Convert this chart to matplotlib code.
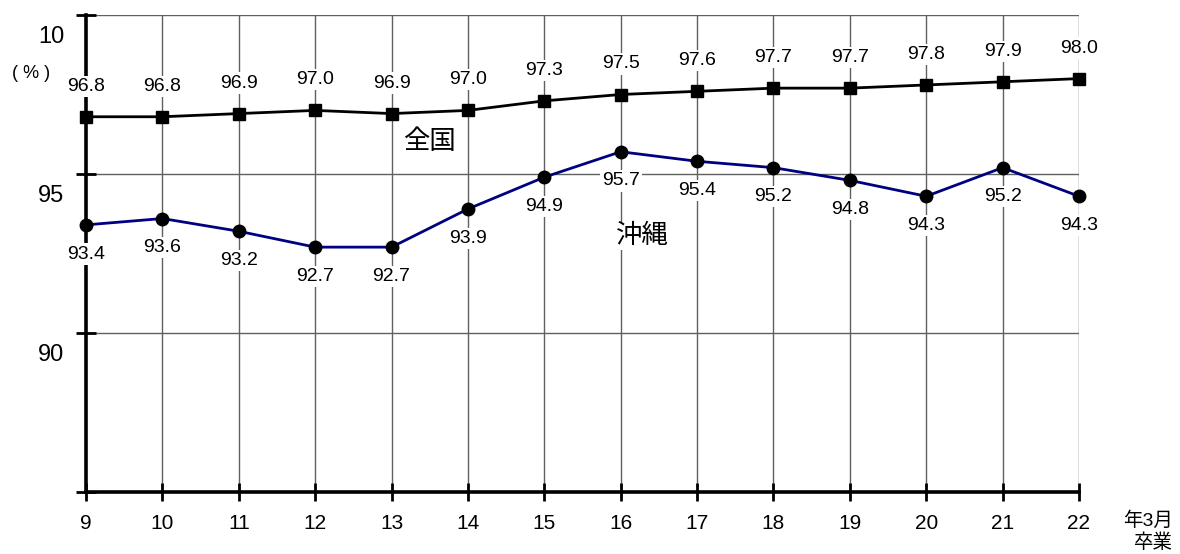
import matplotlib.pyplot as plt
import matplotlib.transforms as mtransforms

plt.rcParams['font.family'] = ['Liberation Sans', 'Noto Sans CJK JP', 'DejaVu Sans']

years = [9, 10, 11, 12, 13, 14, 15, 16, 17, 18, 19, 20, 21, 22]
zenkoku = [96.8, 96.8, 96.9, 97.0, 96.9, 97.0, 97.3, 97.5, 97.6, 97.7, 97.7, 97.8, 97.9, 98.0]
okinawa = [93.4, 93.6, 93.2, 92.7, 92.7, 93.9, 94.9, 95.7, 95.4, 95.2, 94.8, 94.3, 95.2, 94.3]
ytick_vals = [85, 90, 95, 100]
ytick_text = ['', '90', '95', '10']

fig = plt.figure(figsize=(11.8, 5.54), dpi=100)
ax = fig.add_axes([86 / 1180, 1 - 492 / 554, (1079 - 86) / 1180, (492 - 15) / 554])

ax.set_xlim(years[0], years[-1])
ax.set_ylim(85, 100)

# grid lines
for x in years[1:]:
    ax.axvline(x, color='#606060', lw=1, zorder=1)
for y in ytick_vals[1:]:
    ax.axhline(y, color='#606060', lw=1, zorder=1)

ax.plot(years, zenkoku, color='black', lw=2, marker='s', ms=9, zorder=3, clip_on=False)
ax.plot(years, okinawa, color='#000080', lw=2, marker='o', mfc='black', mec='black',
        ms=9, zorder=3, clip_on=False)

bbox = dict(facecolor='white', edgecolor='none', pad=1.5)
for x, v in zip(years, zenkoku):
    ax.annotate(f'{v:.1f}', (x, v), xytext=(0, 22), textcoords='offset points',
                ha='center', va='center', fontsize=14, bbox=bbox, zorder=4)
for x, v in zip(years, okinawa):
    ax.annotate(f'{v:.1f}', (x, v), xytext=(0, -21), textcoords='offset points',
                ha='center', va='center', fontsize=14, bbox=bbox, zorder=4)

ax.text(429 / 1180, 1 - 142 / 554, '全国', transform=fig.transFigure, fontsize=19,
        ha='center', va='center', bbox=bbox, zorder=4)
ax.text(642 / 1180, 1 - 236 / 554, '沖縄', transform=fig.transFigure, fontsize=19,
        ha='center', va='center', bbox=bbox, zorder=4)

# spines and ticks
for s in ['top', 'right']:
    ax.spines[s].set_visible(False)
ax.spines['left'].set_linewidth(2.6)
ax.spines['bottom'].set_linewidth(2.6)

ax.set_xticks(years)
ax.set_xticklabels([str(y) for y in years], fontsize=15)
ax.tick_params(axis='x', direction='inout', length=13, width=2, pad=9)

ax.set_yticks(ytick_vals)
ax.set_yticklabels([])
ax.tick_params(axis='y', direction='inout', length=14, width=2)
offset = mtransforms.ScaledTranslation(0, -22 / 100, fig.dpi_scale_trans)
trans = mtransforms.blended_transform_factory(fig.transFigure, ax.transData) + offset
for v, t in zip(ytick_vals, ytick_text):
    ax.text(38 / 1180, v, t, transform=trans, ha='left', va='center', fontsize=17)

fig.text(31 / 1180, 1 - 73 / 554, '( % )', ha='center', va='center', fontsize=13)
fig.text(1173 / 1180, 1 - 521 / 554, '年3月', ha='right', va='center', fontsize=14)
fig.text(1173 / 1180, 1 - 543 / 554, '卒業', ha='right', va='center', fontsize=14)

fig.savefig('out.png', dpi=100)
